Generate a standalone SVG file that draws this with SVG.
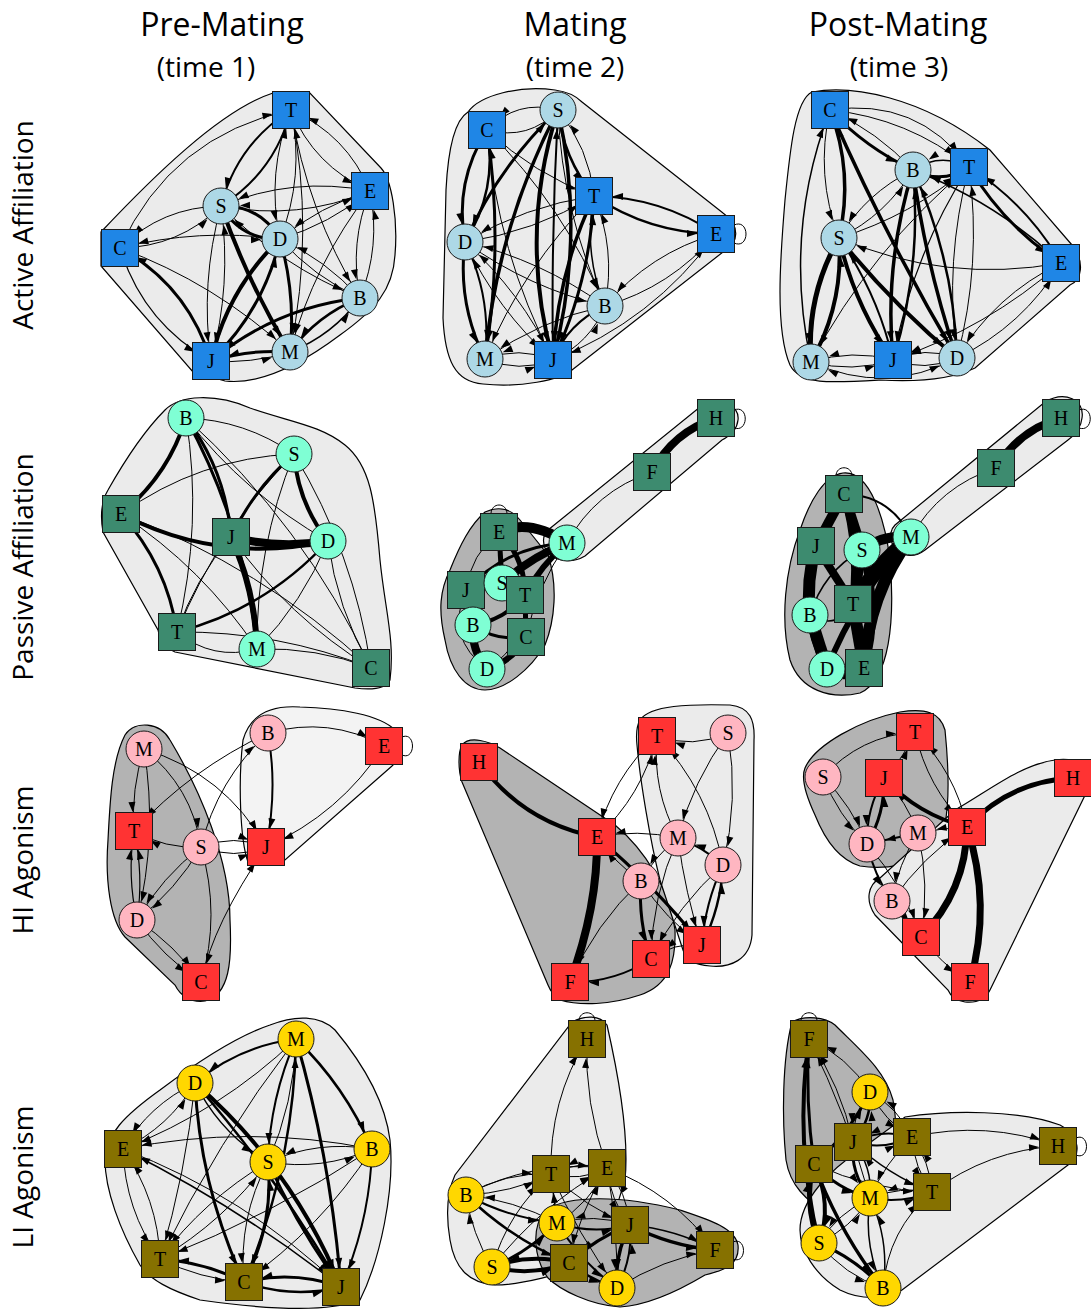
<svg xmlns="http://www.w3.org/2000/svg" width="1091" height="1312" viewBox="0 0 1091 1312">
<defs>
<marker id="ah" markerUnits="userSpaceOnUse" markerWidth="10" markerHeight="7" viewBox="0 0 10 7" refX="29" refY="3.5" orient="auto" overflow="visible"><path d="M0,0 L10,3.5 L0,7 z" fill="#000" stroke="none"/></marker>
</defs>
<style>
.hl{fill:#ebebeb;stroke:#000;stroke-width:1.2}
.hd{fill:#b3b3b3;stroke:#000;stroke-width:1.2}
.e{fill:none;stroke:#000;stroke-width:1}
.d path{marker-end:url(#ah)}
.n rect,.n circle{stroke:#1a1a1a;stroke-width:1}
.sb{fill:#1f86e6}.cb{fill:#add8e6}
.sg{fill:#3d8b6f}.cg{fill:#7fffd4}
.sr{fill:#ff3333}.cr{fill:#ffb6c1}
.so{fill:#867100}.cy{fill:#ffd700}
.n text{font-family:"Liberation Serif",serif;font-size:20px;text-anchor:middle;fill:#000}
.ti{font-family:"Open Sans","Liberation Sans",sans-serif;font-size:32px;text-anchor:middle;fill:#000}
.tm{font-family:"Open Sans","Liberation Sans",sans-serif;font-size:28px;text-anchor:middle;fill:#000}
.rl{font-family:"Open Sans","Liberation Sans",sans-serif;font-size:28px;text-anchor:middle;fill:#000}
</style>
<rect width="1091" height="1312" fill="#fff"/>
<g id="titles">
<text class="ti" x="222" y="36">Pre-Mating</text>
<text class="tm" x="206" y="77">(time 1)</text>
<text class="ti" x="575" y="36">Mating</text>
<text class="tm" x="575" y="77">(time 2)</text>
<text class="ti" x="898" y="36">Post-Mating</text>
<text class="tm" x="899" y="77">(time 3)</text>
<text class="rl" transform="translate(33,225) rotate(-90)">Active Affiliation</text>
<text class="rl" transform="translate(33,567) rotate(-90)">Passive Affiliation</text>
<text class="rl" transform="translate(33,860) rotate(-90)">HI Agonism</text>
<text class="rl" transform="translate(33,1177) rotate(-90)">LI Agonism</text>
</g>
<g id="hulls">
<path class="hl" d="M101,232 C150,180 220,110 273,93 L309,92 L381,168 C392,180 398,220 395,255 C393,290 375,310 340,335 C300,365 260,385 225,381 L193,372 L101,266 Z"/>
<path class="hl" d="M468,112 C480,95 520,85 555,90 C570,92 578,98 582,102 L723,213 C740,225 740,243 723,252 L572,370 C560,380 520,388 483,384 C455,382 445,360 443,318 L446,190 C448,150 455,120 468,112 Z"/>
<path class="hl" d="M812,92 C850,85 920,95 990,150 L1072,245 C1085,262 1082,280 1070,285 L975,368 C950,380 915,382 880,380 C830,383 800,385 790,365 C775,330 780,260 785,200 C790,150 795,100 812,92 Z"/>
<path class="hl" d="M165,410 C180,395 215,393 250,408 C290,422 320,425 345,445 C370,465 375,500 380,560 C385,610 395,640 390,680 C385,690 370,690 355,688 L175,652 C165,648 160,640 158,630 L103,532 C100,515 102,500 108,490 C125,460 145,430 165,410 Z"/>
<path class="hl" d="M548,530 L700,407 C720,396 740,405 738,420 C737,430 730,436 722,440 L585,556 C570,565 550,560 545,548 C542,540 543,535 548,530 Z"/>
<path class="hd" d="M485,512 C500,505 512,510 520,520 L548,555 C558,585 555,620 545,645 C530,670 505,690 485,690 C465,690 450,670 445,640 C438,610 440,590 450,570 C460,545 470,525 485,512 Z"/>
<path class="hl" d="M895,525 L1045,402 C1065,390 1085,400 1082,418 C1081,428 1075,435 1068,440 L925,550 C912,560 895,555 892,543 C890,535 890,530 895,525 Z"/>
<path class="hd" d="M843,473 C870,470 885,520 890,560 C895,620 890,680 860,693 C830,700 800,690 790,660 C780,620 785,570 800,530 C810,500 825,475 843,473 Z"/>
<path class="hd" d="M125,735 C135,720 160,722 170,740 C200,790 230,860 230,920 C232,960 230,995 205,1001 C190,1003 180,995 175,985 L125,937 C110,920 105,880 108,840 C110,800 112,760 125,735 Z"/>
<path class="hl" style="fill:#f3f3f3" d="M243,740 C250,715 270,705 300,707 C340,708 380,715 395,730 C402,740 400,760 392,766 L285,860 L248,862 C240,840 238,780 243,740 Z"/>
<path class="hd" d="M462,745 C470,735 490,742 500,748 L615,825 C645,850 670,890 675,930 C676,960 670,985 640,995 C610,1005 580,1006 560,1000 C553,995 550,990 548,985 L462,782 C458,770 458,752 462,745 Z"/>
<path class="hl" d="M640,720 C650,705 690,704 730,705 C750,707 755,720 754,740 L752,935 C750,960 730,968 710,966 C695,965 686,960 683,950 L660,880 C650,840 640,780 637,745 C636,735 637,725 640,720 Z"/>
<path class="hd" d="M805,768 C815,745 860,720 900,712 C925,708 940,712 945,730 C950,780 950,830 935,850 C915,865 885,870 860,866 C840,860 825,840 815,815 C808,800 800,780 805,768 Z"/>
<path class="hl" d="M955,810 C990,790 1020,765 1055,760 C1075,757 1092,765 1090,785 L990,990 C985,1000 975,1003 965,1002 C955,1000 950,995 948,990 L875,915 C865,900 868,885 880,878 L955,810 Z"/>
<path class="hl" d="M270,1025 C295,1015 320,1015 335,1030 C360,1060 385,1100 390,1140 C395,1190 380,1260 360,1300 C330,1312 270,1310 200,1300 C170,1290 150,1280 140,1265 C120,1230 105,1190 105,1160 C105,1135 125,1115 160,1090 C200,1060 240,1035 270,1025 Z"/>
<path class="hl" d="M572,1022 C585,1015 600,1015 607,1025 C615,1060 630,1130 625,1180 L600,1260 C560,1275 520,1285 495,1285 C470,1283 455,1270 450,1240 C445,1210 448,1190 455,1175 L572,1022 Z"/>
<path class="hd" d="M545,1210 C570,1195 620,1195 680,1210 C710,1220 735,1228 738,1245 C740,1265 725,1270 705,1275 C680,1290 650,1305 620,1307 C590,1305 560,1290 548,1278 C535,1260 530,1230 545,1210 Z"/>
<path class="hd" d="M792,1022 C805,1015 825,1017 835,1025 C860,1050 885,1070 893,1100 C900,1140 895,1180 885,1205 C870,1222 845,1222 830,1215 C805,1200 790,1185 786,1160 C782,1120 782,1060 792,1022 Z"/>
<path class="hl" d="M905,1117 C950,1110 1020,1110 1060,1125 C1080,1135 1082,1155 1068,1165 L902,1290 C885,1300 860,1300 840,1290 C815,1275 800,1250 800,1230 C800,1200 830,1170 860,1150 L905,1117 Z"/>
</g>
<g id="connectors" class="e">
<g id="c1" class="d">
<path d="M221,206 Q275,172 291,110" stroke-width="2"/>
<path d="M291,110 Q237,144 221,206" stroke-width="2"/>
<path d="M291,110 Q314,166 370,191"/>
<path d="M370,191 Q347,135 291,110"/>
<path d="M291,110 Q266,173 280,239"/>
<path d="M280,239 Q305,176 291,110"/>
<path d="M291,110 Q307,211 360,298"/>
<path d="M291,110 Q315,231 290,352"/>
<path d="M120,248 Q171,136 291,110"/>
<path d="M120,248 Q179,247 221,206"/>
<path d="M221,206 Q162,207 120,248"/>
<path d="M120,248 Q215,283 290,352"/>
<path d="M211,361 Q188,286 120,248" stroke-width="3"/>
<path d="M120,248 Q143,323 211,361" stroke-width="1.2"/>
<path d="M221,206 Q241,240 280,239" stroke-width="3"/>
<path d="M280,239 Q260,205 221,206" stroke-width="3"/>
<path d="M221,206 Q248,283 290,352" stroke-width="4"/>
<path d="M221,206 Q200,283 211,361"/>
<path d="M211,361 Q232,285 221,206"/>
<path d="M280,239 Q227,290 211,361" stroke-width="4"/>
<path d="M211,361 Q264,310 280,239" stroke-width="3"/>
<path d="M280,239 Q296,295 290,352" stroke-width="3"/>
<path d="M360,298 Q276,307 211,361" stroke-width="3"/>
<path d="M360,298 Q317,315 290,352" stroke-width="2.5"/>
<path d="M290,352 Q333,335 360,298" stroke-width="1.5"/>
<path d="M290,352 Q250,349 211,361" stroke-width="3"/>
<path d="M211,361 Q251,364 290,352"/>
<path d="M370,191 Q349,243 360,298"/>
<path d="M360,298 Q381,246 370,191"/>
<path d="M370,191 Q293,176 221,206"/>
<path d="M221,206 Q298,221 370,191"/>
<path d="M370,191 Q320,206 280,239"/>
<path d="M280,239 Q330,224 370,191"/>
<path d="M280,239 Q314,277 360,298"/>
<path d="M360,298 Q326,260 280,239"/>
<path d="M360,298 Q281,266 221,206"/>
<path d="M370,191 Q314,263 290,352"/>
<path d="M280,239 Q199,228 120,248"/>
</g>
<g id="c2" class="d">
<path d="M558,110 Q517,99 487,130"/>
<path d="M487,130 Q529,141 558,110"/>
<path d="M558,110 Q563,158 594,196" stroke-width="2.5"/>
<path d="M594,196 Q589,148 558,110"/>
<path d="M558,110 Q518,234 553,360" stroke-width="4"/>
<path d="M558,110 Q586,236 553,360" stroke-width="3.5"/>
<path d="M553,360 Q551,235 558,110" stroke-width="2"/>
<path d="M558,110 Q497,227 485,359" stroke-width="3.5"/>
<path d="M558,110 Q498,167 465,242" stroke-width="3"/>
<path d="M487,130 Q454,182 465,242" stroke-width="3"/>
<path d="M465,242 Q498,190 487,130" stroke-width="2.5"/>
<path d="M487,130 Q504,244 485,359" stroke-width="3"/>
<path d="M487,130 Q534,174 594,196"/>
<path d="M487,130 Q497,252 553,360"/>
<path d="M594,196 Q649,233 716,234" stroke-width="2.5"/>
<path d="M716,234 Q661,197 594,196" stroke-width="2"/>
<path d="M716,234 Q650,253 605,306"/>
<path d="M605,306 Q671,287 716,234"/>
<path d="M716,234 Q653,321 553,360"/>
<path d="M594,196 Q557,274 553,360" stroke-width="3.5"/>
<path d="M553,360 Q590,282 594,196" stroke-width="3"/>
<path d="M594,196 Q583,253 605,306" stroke-width="1.5"/>
<path d="M605,306 Q616,249 594,196"/>
<path d="M465,242 Q457,303 485,359" stroke-width="3"/>
<path d="M485,359 Q492,297 465,242" stroke-width="2"/>
<path d="M465,242 Q534,232 594,196"/>
<path d="M594,196 Q525,206 465,242"/>
<path d="M465,242 Q529,288 605,306"/>
<path d="M605,306 Q541,260 465,242"/>
<path d="M465,242 Q497,310 553,360"/>
<path d="M553,360 Q521,292 465,242"/>
<path d="M485,359 Q519,373 553,360"/>
<path d="M553,360 Q519,346 485,359"/>
<path d="M605,306 Q568,323 553,360" stroke-width="2"/>
<path d="M553,360 Q590,343 605,306"/>
<path d="M605,306 Q540,320 485,359"/>
<path d="M594,196 Q523,267 485,359"/>
<path d="M487,130 Q564,206 605,306"/>
<path d="M558,110 Q562,213 605,306"/>
</g>
<path d="M734,225 C750,218 750,250 734,243"/>
<g id="c3" class="d">
<path d="M830,110 Q866,148 913,170" stroke-width="3"/>
<path d="M913,170 Q878,132 830,110"/>
<path d="M830,110 Q908,118 969,167"/>
<path d="M830,110 Q917,97 969,167"/>
<path d="M830,110 Q886,238 957,358" stroke-width="3.5"/>
<path d="M830,110 Q815,175 839,238"/>
<path d="M839,238 Q854,173 830,110" stroke-width="3.5"/>
<path d="M811,362 Q783,233 830,110" stroke-width="1.5"/>
<path d="M913,170 Q942,185 969,167" stroke-width="3"/>
<path d="M969,167 Q940,152 913,170" stroke-width="1.5"/>
<path d="M913,170 Q884,263 893,360" stroke-width="3.5"/>
<path d="M893,360 Q922,267 913,170" stroke-width="2.5"/>
<path d="M913,170 Q926,266 957,358" stroke-width="3.5"/>
<path d="M957,358 Q954,260 913,170" stroke-width="2.5"/>
<path d="M969,167 Q1004,226 1061,263" stroke-width="3"/>
<path d="M1061,263 Q1027,204 969,167" stroke-width="2"/>
<path d="M969,167 Q944,261 957,358"/>
<path d="M957,358 Q982,264 969,167"/>
<path d="M969,167 Q912,256 893,360" stroke-width="1.2"/>
<path d="M1061,263 Q946,284 839,238"/>
<path d="M1061,263 Q996,202 913,170" stroke-width="1.5"/>
<path d="M1061,263 Q995,295 957,358"/>
<path d="M957,358 Q1023,326 1061,263"/>
<path d="M839,238 Q806,296 811,362" stroke-width="5"/>
<path d="M811,362 Q844,304 839,238" stroke-width="4"/>
<path d="M839,238 Q854,304 893,360" stroke-width="4"/>
<path d="M893,360 Q878,294 839,238" stroke-width="2"/>
<path d="M839,238 Q892,304 957,358" stroke-width="4"/>
<path d="M839,238 Q886,215 913,170"/>
<path d="M913,170 Q866,193 839,238"/>
<path d="M839,238 Q911,216 969,167"/>
<path d="M811,362 Q852,373 893,360"/>
<path d="M893,360 Q852,349 811,362"/>
<path d="M893,360 Q925,372 957,358"/>
<path d="M957,358 Q925,346 893,360"/>
<path d="M969,167 Q871,249 811,362"/>
<path d="M1061,263 Q987,328 893,360"/>
<path d="M957,358 Q885,396 811,362"/>
</g>
<g id="c4">
<path d="M186,418 Q168,476 121,514" stroke-width="4"/>
<path d="M186,418 Q226,471 231,537" stroke-width="3"/>
<path d="M186,418 Q245,526 257,649" stroke-width="3"/>
<path d="M121,514 Q220,565 328,541" stroke-width="4"/>
<path d="M231,537 Q279,549 328,541" stroke-width="8"/>
<path d="M294,454 Q298,503 328,541" stroke-width="4"/>
<path d="M294,454 Q254,489 231,537" stroke-width="3"/>
<path d="M231,537 Q255,590 257,649" stroke-width="6"/>
<path d="M121,514 Q167,565 177,632" stroke-width="3"/>
<path d="M177,632 Q266,609 328,541" stroke-width="2.5"/>
<path d="M186,418 Q245,420 294,454"/>
<path d="M186,418 Q245,494 328,541"/>
<path d="M186,418 Q304,525 371,668"/>
<path d="M186,418 Q203,524 177,632"/>
<path d="M121,514 Q199,458 294,454"/>
<path d="M121,514 Q203,568 257,649"/>
<path d="M121,514 Q261,566 371,668"/>
<path d="M294,454 Q218,531 177,632"/>
<path d="M294,454 Q256,548 257,649"/>
<path d="M294,454 Q354,553 371,668"/>
<path d="M231,537 Q195,579 177,632"/>
<path d="M231,537 Q288,617 371,668"/>
<path d="M177,632 Q213,661 257,649"/>
<path d="M177,632 Q278,631 371,668"/>
<path d="M257,649 Q316,647 371,668"/>
<path d="M257,649 Q303,602 328,541"/>
<path d="M328,541 Q337,609 371,668"/>
</g>
<g id="c5">
<path d="M716,418 Q673,432 652,472" stroke-width="8"/>
<path d="M652,472 Q595,491 567,543"/>
<path d="M499,532 Q530,518 567,543" stroke-width="10"/>
<path d="M567,543 Q531,557 502,583" stroke-width="8"/>
<path d="M567,543 Q541,565 525,595" stroke-width="6"/>
<path d="M567,543 Q507,546 466,590" stroke-width="3"/>
<path d="M499,532 Q471,554 466,590"/>
<path d="M499,532 L502,583" stroke-width="5"/>
<path d="M499,532 Q525,558 525,595" stroke-width="5"/>
<path d="M466,590 L473,625" stroke-width="6"/>
<path d="M466,590 L502,583" stroke-width="3"/>
<path d="M502,583 L525,595" stroke-width="5"/>
<path d="M473,625 Q471,650 487,669" stroke-width="8"/>
<path d="M487,669 Q513,661 526,637" stroke-width="6"/>
<path d="M525,595 L526,637" stroke-width="5"/>
<path d="M473,625 Q505,620 525,595" stroke-width="4"/>
<path d="M473,625 Q497,642 526,637" stroke-width="3"/>
<path d="M487,669 Q528,643 525,595"/>
<path d="M466,590 Q445,638 487,669"/>
<path d="M567,543 Q537,586 526,637"/>
<path d="M734,410 C749,404 749,433 734,428"/>
<path d="M491,514 C491,502 507,502 507,514"/>
</g>
<g id="c6">
<path d="M1061,418 Q1019,430 996,468" stroke-width="8"/>
<path d="M996,468 Q940,486 911,537"/>
<path d="M844,494 Q890,495 911,537" stroke-width="2"/>
<path d="M911,537 Q875,565 853,604" stroke-width="14"/>
<path d="M911,537 Q868,595 864,668" stroke-width="12"/>
<path d="M911,537 Q884,534 862,550" stroke-width="10"/>
<path d="M844,494 L816,546" stroke-width="10"/>
<path d="M844,494 L862,550" stroke-width="10"/>
<path d="M844,494 Q860,548 853,604" stroke-width="8"/>
<path d="M816,546 Q806,580 810,615" stroke-width="12"/>
<path d="M810,615 L827,669" stroke-width="12"/>
<path d="M827,669 Q845,680 864,668" stroke-width="10"/>
<path d="M853,604 L864,668" stroke-width="12"/>
<path d="M862,550 L853,604" stroke-width="10"/>
<path d="M816,546 Q797,610 827,669" stroke-width="8"/>
<path d="M816,546 L853,604" stroke-width="8"/>
<path d="M862,550 Q881,609 864,668" stroke-width="8"/>
<path d="M911,537 Q856,595 827,669" stroke-width="6"/>
<path d="M810,615 Q837,631 853,604" stroke-width="1.5"/>
<path d="M810,615 Q823,572 862,550" stroke-width="1.5"/>
<path d="M1079,410 C1094,404 1094,433 1079,428"/>
<path d="M836,476 C836,465 852,465 852,476"/>
</g>
<g id="c7" class="d">
<path d="M144,749 Q131,789 134,831"/>
<path d="M144,749 Q192,787 201,847"/>
<path d="M144,749 Q158,835 137,920"/>
<path d="M144,749 Q225,774 266,847"/>
<path d="M268,733 Q329,716 384,746"/>
<path d="M268,733 Q278,790 266,847" stroke-width="2"/>
<path d="M268,733 Q191,769 134,831"/>
<path d="M201,847 Q217,780 268,733"/>
<path d="M384,746 Q340,814 266,847"/>
<path d="M201,847 Q165,849 134,831"/>
<path d="M201,847 Q234,860 266,847"/>
<path d="M201,847 Q234,834 266,847"/>
<path d="M201,847 Q162,877 137,920"/>
<path d="M201,847 Q176,890 137,920"/>
<path d="M201,847 Q221,915 201,982"/>
<path d="M137,920 Q144,875 134,831" stroke-width="1.2"/>
<path d="M137,920 Q127,876 134,831" stroke-width="1.2"/>
<path d="M137,920 Q163,957 201,982"/>
<path d="M137,920 Q175,945 201,982"/>
<path d="M201,982 Q213,924 266,847"/>
</g>
<path d="M402,737 C416,731 416,761 402,755"/>
<g id="c8" class="d">
<path d="M728,733 Q693,749 657,736"/>
<path d="M479,762 Q523,823 597,837" stroke-width="4" style="marker-end:none"/>
<path d="M597,837 Q598,907 570,982" stroke-width="8"/>
<path d="M597,837 Q655,886 702,945" stroke-width="3"/>
<path d="M597,837 Q642,796 657,736"/>
<path d="M657,736 Q612,778 597,837"/>
<path d="M678,838 Q637,829 597,837"/>
<path d="M678,838 Q652,790 657,736"/>
<path d="M723,865 Q709,791 657,736"/>
<path d="M728,733 Q693,781 678,838"/>
<path d="M728,733 Q739,800 723,865"/>
<path d="M678,838 Q655,856 641,881"/>
<path d="M723,865 Q703,847 678,838" stroke-width="2"/>
<path d="M641,881 Q638,921 651,959" stroke-width="3"/>
<path d="M641,881 Q595,924 570,982"/>
<path d="M651,959 Q614,983 570,982" stroke-width="2"/>
<path d="M702,945 Q721,907 723,865" stroke-width="2.5"/>
<path d="M723,865 Q705,903 702,945" stroke-width="2"/>
<path d="M723,865 Q678,905 651,959"/>
<path d="M702,945 Q674,942 651,959"/>
<path d="M678,838 Q685,893 702,945"/>
<path d="M641,881 Q665,919 702,945"/>
<path d="M678,838 Q652,896 651,959"/>
<path d="M641,881 Q615,863 597,837"/>
</g>
<g id="c9" class="d">
<path d="M823,777 Q860,736 915,732"/>
<path d="M823,777 Q838,815 867,844"/>
<path d="M823,777 Q852,806 867,844"/>
<path d="M884,778 Q904,758 915,732"/>
<path d="M867,844 Q885,814 884,778" stroke-width="3"/>
<path d="M884,778 Q866,809 867,844" stroke-width="2"/>
<path d="M918,833 Q907,802 884,778"/>
<path d="M918,833 L867,844" stroke-width="2"/>
<path d="M967,827 Q955,772 915,732"/>
<path d="M915,732 Q927,787 967,827"/>
<path d="M884,778 Q918,815 967,827" stroke-width="4" style="marker-end:none"/>
<path d="M967,827 Q943,828 918,833"/>
<path d="M1073,778 Q1010,781 967,827" stroke-width="5" style="marker-end:none"/>
<path d="M967,827 Q966,891 921,937" stroke-width="7" style="marker-end:none"/>
<path d="M967,827 Q992,905 970,982" stroke-width="7" style="marker-end:none"/>
<path d="M867,844 Q874,875 892,901" stroke-width="2"/>
<path d="M892,901 Q922,857 967,827"/>
<path d="M918,833 Q930,885 921,937"/>
<path d="M867,844 Q903,885 921,937"/>
<path d="M918,833 Q898,864 892,901"/>
<path d="M921,937 Q941,964 970,982"/>
<path d="M892,901 L921,937"/>
</g>
<g id="c10" class="d">
<path d="M296,1039 Q239,1046 195,1083" stroke-width="2"/>
<path d="M296,1039 Q221,1111 123,1149"/>
<path d="M296,1039 Q345,1086 372,1149" stroke-width="2.5"/>
<path d="M296,1039 Q270,1098 268,1162" stroke-width="2"/>
<path d="M268,1162 Q294,1103 296,1039"/>
<path d="M296,1039 Q331,1161 341,1287" stroke-width="3"/>
<path d="M296,1039 Q294,1166 244,1282" stroke-width="2.5"/>
<path d="M296,1039 Q217,1142 160,1259"/>
<path d="M195,1083 Q293,1168 341,1287" stroke-width="4"/>
<path d="M195,1083 Q278,1178 341,1287" stroke-width="2.5"/>
<path d="M195,1083 Q200,1187 244,1282" stroke-width="3"/>
<path d="M195,1083 Q220,1133 268,1162" stroke-width="1.5"/>
<path d="M195,1083 Q149,1105 123,1149"/>
<path d="M123,1149 Q169,1127 195,1083"/>
<path d="M195,1083 Q186,1173 160,1259"/>
<path d="M123,1149 Q125,1210 160,1259"/>
<path d="M160,1259 Q158,1199 123,1149"/>
<path d="M123,1149 Q246,1196 341,1287"/>
<path d="M372,1149 Q248,1124 123,1149"/>
<path d="M341,1287 Q239,1207 123,1149" stroke-width="1.5"/>
<path d="M372,1149 Q318,1140 268,1162"/>
<path d="M268,1162 Q322,1171 372,1149"/>
<path d="M372,1149 Q370,1221 341,1287" stroke-width="2"/>
<path d="M372,1149 Q321,1228 244,1282"/>
<path d="M372,1149 Q272,1215 160,1259"/>
<path d="M268,1162 Q298,1228 341,1287" stroke-width="3"/>
<path d="M268,1162 Q238,1218 244,1282"/>
<path d="M244,1282 Q274,1226 268,1162" stroke-width="3"/>
<path d="M268,1162 Q204,1200 160,1259"/>
<path d="M160,1259 Q224,1221 268,1162"/>
<path d="M244,1282 Q204,1262 160,1259" stroke-width="3"/>
<path d="M160,1259 Q200,1279 244,1282"/>
<path d="M341,1287 Q293,1270 244,1282" stroke-width="3"/>
<path d="M244,1282 Q292,1299 341,1287" stroke-width="2.5"/>
</g>
<g id="c11" class="d">
<path d="M551,1174 Q549,1101 587,1039"/>
<path d="M607,1168 Q584,1102 587,1039"/>
<path d="M551,1174 Q580,1182 607,1168"/>
<path d="M607,1168 Q578,1160 551,1174"/>
<path d="M466,1195 Q505,1172 551,1174"/>
<path d="M466,1195 Q511,1193 551,1174"/>
<path d="M466,1195 Q532,1160 607,1168"/>
<path d="M492,1267 Q472,1234 466,1195"/>
<path d="M466,1195 Q509,1218 557,1223" stroke-width="2"/>
<path d="M557,1223 Q514,1200 466,1195"/>
<path d="M466,1195 Q511,1239 569,1263" stroke-width="2.5"/>
<path d="M492,1267 Q531,1277 569,1263" stroke-width="4"/>
<path d="M569,1263 Q530,1253 492,1267" stroke-width="4"/>
<path d="M492,1267 Q529,1252 557,1223" stroke-width="3"/>
<path d="M492,1267 Q508,1212 551,1174"/>
<path d="M492,1267 Q540,1206 607,1168"/>
<path d="M557,1223 L551,1174" stroke-width="1.5"/>
<path d="M557,1223 Q590,1203 607,1168"/>
<path d="M557,1223 Q593,1235 630,1225" stroke-width="2"/>
<path d="M630,1225 Q594,1213 557,1223"/>
<path d="M551,1174 Q585,1207 630,1225"/>
<path d="M607,1168 Q610,1200 630,1225"/>
<path d="M630,1225 Q627,1193 607,1168"/>
<path d="M630,1225 Q670,1246 715,1250" stroke-width="3.5"/>
<path d="M630,1225 Q675,1229 715,1250" stroke-width="1.5"/>
<path d="M607,1168 Q673,1193 715,1250"/>
<path d="M617,1288 Q662,1259 715,1250"/>
<path d="M569,1263 Q591,1280 617,1288" stroke-width="2.5"/>
<path d="M630,1225 Q614,1255 617,1288" stroke-width="3.5"/>
<path d="M617,1288 Q633,1258 630,1225" stroke-width="2"/>
<path d="M630,1225 Q596,1238 569,1263" stroke-width="3"/>
<path d="M607,1168 Q579,1212 569,1263"/>
<path d="M551,1174 Q578,1234 617,1288"/>
<path d="M607,1168 Q618,1229 617,1288"/>
<path d="M557,1223 Q581,1262 617,1288" stroke-width="2"/>
</g>
<path d="M579,1021 C579,1010 595,1010 595,1021"/>
<path d="M733,1242 C747,1236 747,1265 733,1259"/>
<g id="c12" class="d">
<path d="M819,1243 Q794,1142 809,1039" stroke-width="4"/>
<path d="M814,1164 Q805,1100 809,1039" stroke-width="3"/>
<path d="M819,1243 Q803,1203 814,1164" stroke-width="5"/>
<path d="M814,1164 Q833,1205 819,1243" stroke-width="4"/>
<path d="M870,1092 Q847,1056 809,1039"/>
<path d="M853,1142 Q841,1086 809,1039"/>
<path d="M870,1198 Q847,1115 809,1039"/>
<path d="M853,1142 Q872,1120 870,1092" stroke-width="2.5"/>
<path d="M870,1092 Q852,1114 853,1142"/>
<path d="M814,1164 Q849,1134 870,1092" stroke-width="3"/>
<path d="M912,1137 Q898,1108 870,1092"/>
<path d="M870,1092 Q884,1121 912,1137"/>
<path d="M853,1142 Q884,1151 912,1137" stroke-width="2"/>
<path d="M912,1137 Q882,1128 853,1142" stroke-width="2"/>
<path d="M912,1137 Q914,1168 932,1192"/>
<path d="M932,1192 Q930,1162 912,1137"/>
<path d="M912,1137 Q986,1120 1058,1146"/>
<path d="M932,1192 Q988,1150 1058,1146"/>
<path d="M870,1198 Q902,1204 932,1192" stroke-width="2"/>
<path d="M932,1192 Q900,1186 870,1198"/>
<path d="M853,1142 Q888,1175 932,1192" stroke-width="1.5"/>
<path d="M814,1164 Q870,1190 932,1192"/>
<path d="M853,1142 Q850,1173 870,1198" stroke-width="3"/>
<path d="M870,1198 Q873,1167 853,1142" stroke-width="1.5"/>
<path d="M814,1164 Q837,1189 870,1198" stroke-width="3"/>
<path d="M870,1198 Q838,1213 819,1243"/>
<path d="M819,1243 Q851,1228 870,1198"/>
<path d="M819,1243 Q856,1259 883,1288" stroke-width="3"/>
<path d="M819,1243 Q844,1275 883,1288"/>
<path d="M814,1164 Q839,1232 883,1288" stroke-width="3.5"/>
<path d="M883,1288 Q890,1241 870,1198" stroke-width="1.5"/>
<path d="M870,1198 Q863,1245 883,1288" stroke-width="1.5"/>
<path d="M883,1288 Q888,1230 932,1192"/>
<path d="M912,1137 Q885,1163 870,1198"/>
</g>
<path d="M1076,1138 C1090,1132 1090,1161 1076,1155"/>
<path d="M801,1021 C801,1010 817,1010 817,1021"/>
</g>
<g id="nodes" class="n">
<g id="p1-T"><rect class="sb" x="272.5" y="91.5" width="37" height="37"/><text x="291" y="117">T</text></g>
<g id="p1-E"><rect class="sb" x="351.5" y="172.5" width="37" height="37"/><text x="370" y="198">E</text></g>
<g id="p1-C"><rect class="sb" x="101.5" y="229.5" width="37" height="37"/><text x="120" y="255">C</text></g>
<g id="p1-S"><circle class="cb" cx="221" cy="206" r="18"/><text x="221" y="213">S</text></g>
<g id="p1-D"><circle class="cb" cx="280" cy="239" r="18"/><text x="280" y="246">D</text></g>
<g id="p1-B"><circle class="cb" cx="360" cy="298" r="18"/><text x="360" y="305">B</text></g>
<g id="p1-M"><circle class="cb" cx="290" cy="352" r="18"/><text x="290" y="359">M</text></g>
<g id="p1-J"><rect class="sb" x="192.5" y="342.5" width="37" height="37"/><text x="211" y="368">J</text></g>

<g id="p2-S"><circle class="cb" cx="558" cy="110" r="18"/><text x="558" y="117">S</text></g>
<g id="p2-C"><rect class="sb" x="468.5" y="111.5" width="37" height="37"/><text x="487" y="137">C</text></g>
<g id="p2-T"><rect class="sb" x="575.5" y="177.5" width="37" height="37"/><text x="594" y="203">T</text></g>
<g id="p2-E"><rect class="sb" x="697.5" y="215.5" width="37" height="37"/><text x="716" y="241">E</text></g>
<g id="p2-D"><circle class="cb" cx="465" cy="242" r="18"/><text x="465" y="249">D</text></g>
<g id="p2-B"><circle class="cb" cx="605" cy="306" r="18"/><text x="605" y="313">B</text></g>
<g id="p2-M"><circle class="cb" cx="485" cy="359" r="18"/><text x="485" y="366">M</text></g>
<g id="p2-J"><rect class="sb" x="534.5" y="341.5" width="37" height="37"/><text x="553" y="367">J</text></g>

<g id="p3-C"><rect class="sb" x="811.5" y="91.5" width="37" height="37"/><text x="830" y="117">C</text></g>
<g id="p3-B"><circle class="cb" cx="913" cy="170" r="18"/><text x="913" y="177">B</text></g>
<g id="p3-T"><rect class="sb" x="950.5" y="148.5" width="37" height="37"/><text x="969" y="174">T</text></g>
<g id="p3-S"><circle class="cb" cx="839" cy="238" r="18"/><text x="839" y="245">S</text></g>
<g id="p3-E"><rect class="sb" x="1042.5" y="244.5" width="37" height="37"/><text x="1061" y="270">E</text></g>
<g id="p3-M"><circle class="cb" cx="811" cy="362" r="18"/><text x="811" y="369">M</text></g>
<g id="p3-J"><rect class="sb" x="874.5" y="341.5" width="37" height="37"/><text x="893" y="367">J</text></g>
<g id="p3-D"><circle class="cb" cx="957" cy="358" r="18"/><text x="957" y="365">D</text></g>

<g id="p4-B"><circle class="cg" cx="186" cy="418" r="18"/><text x="186" y="425">B</text></g>
<g id="p4-S"><circle class="cg" cx="294" cy="454" r="18"/><text x="294" y="461">S</text></g>
<g id="p4-E"><rect class="sg" x="102.5" y="495.5" width="37" height="37"/><text x="121" y="521">E</text></g>
<g id="p4-J"><rect class="sg" x="212.5" y="518.5" width="37" height="37"/><text x="231" y="544">J</text></g>
<g id="p4-D"><circle class="cg" cx="328" cy="541" r="18"/><text x="328" y="548">D</text></g>
<g id="p4-T"><rect class="sg" x="158.5" y="613.5" width="37" height="37"/><text x="177" y="639">T</text></g>
<g id="p4-M"><circle class="cg" cx="257" cy="649" r="18"/><text x="257" y="656">M</text></g>
<g id="p4-C"><rect class="sg" x="352.5" y="649.5" width="37" height="37"/><text x="371" y="675">C</text></g>

<g id="p5-H"><rect class="sg" x="697.5" y="399.5" width="37" height="37"/><text x="716" y="425">H</text></g>
<g id="p5-F"><rect class="sg" x="633.5" y="453.5" width="37" height="37"/><text x="652" y="479">F</text></g>
<g id="p5-E"><rect class="sg" x="480.5" y="513.5" width="37" height="37"/><text x="499" y="539">E</text></g>
<g id="p5-M"><circle class="cg" cx="567" cy="543" r="18"/><text x="567" y="550">M</text></g>
<g id="p5-J"><rect class="sg" x="447.5" y="571.5" width="37" height="37"/><text x="466" y="597">J</text></g>
<g id="p5-S"><circle class="cg" cx="502" cy="583" r="18"/><text x="502" y="590">S</text></g>
<g id="p5-T"><rect class="sg" x="506.5" y="576.5" width="37" height="37"/><text x="525" y="602">T</text></g>
<g id="p5-B"><circle class="cg" cx="473" cy="625" r="18"/><text x="473" y="632">B</text></g>
<g id="p5-C"><rect class="sg" x="507.5" y="618.5" width="37" height="37"/><text x="526" y="644">C</text></g>
<g id="p5-D"><circle class="cg" cx="487" cy="669" r="18"/><text x="487" y="676">D</text></g>

<g id="p6-H"><rect class="sg" x="1042.5" y="399.5" width="37" height="37"/><text x="1061" y="425">H</text></g>
<g id="p6-F"><rect class="sg" x="977.5" y="449.5" width="37" height="37"/><text x="996" y="475">F</text></g>
<g id="p6-C"><rect class="sg" x="825.5" y="475.5" width="37" height="37"/><text x="844" y="501">C</text></g>
<g id="p6-M"><circle class="cg" cx="911" cy="537" r="18"/><text x="911" y="544">M</text></g>
<g id="p6-J"><rect class="sg" x="797.5" y="527.5" width="37" height="37"/><text x="816" y="553">J</text></g>
<g id="p6-S"><circle class="cg" cx="862" cy="550" r="18"/><text x="862" y="557">S</text></g>
<g id="p6-T"><rect class="sg" x="834.5" y="585.5" width="37" height="37"/><text x="853" y="611">T</text></g>
<g id="p6-B"><circle class="cg" cx="810" cy="615" r="18"/><text x="810" y="622">B</text></g>
<g id="p6-D"><circle class="cg" cx="827" cy="669" r="18"/><text x="827" y="676">D</text></g>
<g id="p6-E"><rect class="sg" x="845.5" y="649.5" width="37" height="37"/><text x="864" y="675">E</text></g>

<g id="p7-M"><circle class="cr" cx="144" cy="749" r="18"/><text x="144" y="756">M</text></g>
<g id="p7-B"><circle class="cr" cx="268" cy="733" r="18"/><text x="268" y="740">B</text></g>
<g id="p7-E"><rect class="sr" x="365.5" y="727.5" width="37" height="37"/><text x="384" y="753">E</text></g>
<g id="p7-T"><rect class="sr" x="115.5" y="812.5" width="37" height="37"/><text x="134" y="838">T</text></g>
<g id="p7-S"><circle class="cr" cx="201" cy="847" r="18"/><text x="201" y="854">S</text></g>
<g id="p7-J"><rect class="sr" x="247.5" y="828.5" width="37" height="37"/><text x="266" y="854">J</text></g>
<g id="p7-D"><circle class="cr" cx="137" cy="920" r="18"/><text x="137" y="927">D</text></g>
<g id="p7-C"><rect class="sr" x="182.5" y="963.5" width="37" height="37"/><text x="201" y="989">C</text></g>

<g id="p8-T"><rect class="sr" x="638.5" y="717.5" width="37" height="37"/><text x="657" y="743">T</text></g>
<g id="p8-S"><circle class="cr" cx="728" cy="733" r="18"/><text x="728" y="740">S</text></g>
<g id="p8-H"><rect class="sr" x="460.5" y="743.5" width="37" height="37"/><text x="479" y="769">H</text></g>
<g id="p8-E"><rect class="sr" x="578.5" y="818.5" width="37" height="37"/><text x="597" y="844">E</text></g>
<g id="p8-M"><circle class="cr" cx="678" cy="838" r="18"/><text x="678" y="845">M</text></g>
<g id="p8-D"><circle class="cr" cx="723" cy="865" r="18"/><text x="723" y="872">D</text></g>
<g id="p8-B"><circle class="cr" cx="641" cy="881" r="18"/><text x="641" y="888">B</text></g>
<g id="p8-J"><rect class="sr" x="683.5" y="926.5" width="37" height="37"/><text x="702" y="952">J</text></g>
<g id="p8-C"><rect class="sr" x="632.5" y="940.5" width="37" height="37"/><text x="651" y="966">C</text></g>
<g id="p8-F"><rect class="sr" x="551.5" y="963.5" width="37" height="37"/><text x="570" y="989">F</text></g>

<g id="p9-T"><rect class="sr" x="896.5" y="713.5" width="37" height="37"/><text x="915" y="739">T</text></g>
<g id="p9-S"><circle class="cr" cx="823" cy="777" r="18"/><text x="823" y="784">S</text></g>
<g id="p9-J"><rect class="sr" x="865.5" y="759.5" width="37" height="37"/><text x="884" y="785">J</text></g>
<g id="p9-H"><rect class="sr" x="1054.5" y="759.5" width="37" height="37"/><text x="1073" y="785">H</text></g>
<g id="p9-E"><rect class="sr" x="948.5" y="808.5" width="37" height="37"/><text x="967" y="834">E</text></g>
<g id="p9-M"><circle class="cr" cx="918" cy="833" r="18"/><text x="918" y="840">M</text></g>
<g id="p9-D"><circle class="cr" cx="867" cy="844" r="18"/><text x="867" y="851">D</text></g>
<g id="p9-B"><circle class="cr" cx="892" cy="901" r="18"/><text x="892" y="908">B</text></g>
<g id="p9-C"><rect class="sr" x="902.5" y="918.5" width="37" height="37"/><text x="921" y="944">C</text></g>
<g id="p9-F"><rect class="sr" x="951.5" y="963.5" width="37" height="37"/><text x="970" y="989">F</text></g>

<g id="p10-M"><circle class="cy" cx="296" cy="1039" r="18"/><text x="296" y="1046">M</text></g>
<g id="p10-D"><circle class="cy" cx="195" cy="1083" r="18"/><text x="195" y="1090">D</text></g>
<g id="p10-E"><rect class="so" x="104.5" y="1130.5" width="37" height="37"/><text x="123" y="1156">E</text></g>
<g id="p10-B"><circle class="cy" cx="372" cy="1149" r="18"/><text x="372" y="1156">B</text></g>
<g id="p10-S"><circle class="cy" cx="268" cy="1162" r="18"/><text x="268" y="1169">S</text></g>
<g id="p10-T"><rect class="so" x="141.5" y="1240.5" width="37" height="37"/><text x="160" y="1266">T</text></g>
<g id="p10-C"><rect class="so" x="225.5" y="1263.5" width="37" height="37"/><text x="244" y="1289">C</text></g>
<g id="p10-J"><rect class="so" x="322.5" y="1268.5" width="37" height="37"/><text x="341" y="1294">J</text></g>

<g id="p11-H"><rect class="so" x="568.5" y="1020.5" width="37" height="37"/><text x="587" y="1046">H</text></g>
<g id="p11-T"><rect class="so" x="532.5" y="1155.5" width="37" height="37"/><text x="551" y="1181">T</text></g>
<g id="p11-E"><rect class="so" x="588.5" y="1149.5" width="37" height="37"/><text x="607" y="1175">E</text></g>
<g id="p11-B"><circle class="cy" cx="466" cy="1195" r="18"/><text x="466" y="1202">B</text></g>
<g id="p11-M"><circle class="cy" cx="557" cy="1223" r="18"/><text x="557" y="1230">M</text></g>
<g id="p11-J"><rect class="so" x="611.5" y="1206.5" width="37" height="37"/><text x="630" y="1232">J</text></g>
<g id="p11-F"><rect class="so" x="696.5" y="1231.5" width="37" height="37"/><text x="715" y="1257">F</text></g>
<g id="p11-S"><circle class="cy" cx="492" cy="1267" r="18"/><text x="492" y="1274">S</text></g>
<g id="p11-C"><rect class="so" x="550.5" y="1244.5" width="37" height="37"/><text x="569" y="1270">C</text></g>
<g id="p11-D"><circle class="cy" cx="617" cy="1288" r="18"/><text x="617" y="1295">D</text></g>

<g id="p12-F"><rect class="so" x="790.5" y="1020.5" width="37" height="37"/><text x="809" y="1046">F</text></g>
<g id="p12-D"><circle class="cy" cx="870" cy="1092" r="18"/><text x="870" y="1099">D</text></g>
<g id="p12-E"><rect class="so" x="893.5" y="1118.5" width="37" height="37"/><text x="912" y="1144">E</text></g>
<g id="p12-J"><rect class="so" x="834.5" y="1123.5" width="37" height="37"/><text x="853" y="1149">J</text></g>
<g id="p12-H"><rect class="so" x="1039.5" y="1127.5" width="37" height="37"/><text x="1058" y="1153">H</text></g>
<g id="p12-C"><rect class="so" x="795.5" y="1145.5" width="37" height="37"/><text x="814" y="1171">C</text></g>
<g id="p12-T"><rect class="so" x="913.5" y="1173.5" width="37" height="37"/><text x="932" y="1199">T</text></g>
<g id="p12-M"><circle class="cy" cx="870" cy="1198" r="18"/><text x="870" y="1205">M</text></g>
<g id="p12-S"><circle class="cy" cx="819" cy="1243" r="18"/><text x="819" y="1250">S</text></g>
<g id="p12-B"><circle class="cy" cx="883" cy="1288" r="18"/><text x="883" y="1295">B</text></g>
</g>
</svg>
